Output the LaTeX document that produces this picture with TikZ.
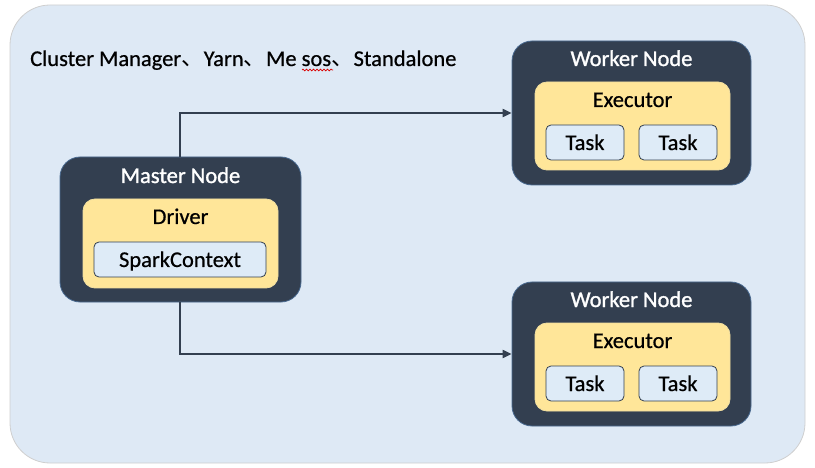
\documentclass[tikz,border=0pt]{standalone}
\usepackage{fontspec}
\setmainfont{Carlito}[FakeBold=0.6]
\newfontfamily\wfont{Carlito}[FakeBold=1.3]
\newfontfamily\cjk{Noto Sans CJK SC}
\usetikzlibrary{arrows.meta,decorations.pathmorphing}
\definecolor{bgblue}{HTML}{DEE9F5}
\definecolor{bgline}{HTML}{CFCFCF}
\definecolor{darkbox}{HTML}{333F50}
\definecolor{darkline}{HTML}{4A6A90}
\definecolor{yelbox}{HTML}{FFE699}
\definecolor{yelline}{HTML}{F2DFA0}
\definecolor{taskbox}{HTML}{DEEBF7}
\begin{document}
\begin{tikzpicture}[x=1pt,y=-1pt,
  every node/.style={font=\fontsize{22.5}{26}\selectfont, inner sep=0pt},
  nodebox/.style={draw=darkline, line width=0.8pt, fill=darkbox, rounded corners=20pt},
  procbox/.style={draw=yelline, line width=0.8pt, fill=yelbox, rounded corners=12pt},
  itembox/.style={draw=darkbox, line width=0.8pt, fill=taskbox, rounded corners=5pt},
  wtitle/.style={text=white, anchor=base, font=\wfont\fontsize{22.5}{26}\selectfont},
  btitle/.style={text=black, anchor=base},
  conn/.style={draw=darkbox, line width=2pt, -{Triangle[length=9pt,width=8pt]}}]
\useasboundingbox (0,0) rectangle (815,468);
\fill[bgblue, draw=bgline, line width=0.8pt, rounded corners=40pt] (10,5) rectangle (805,463);

\node[anchor=base west] (cm) at (30,66) {Cluster Manager{\cjk 、}Yarn{\cjk 、}Me sos{\cjk 、}Standalone};
\coordinate (sqa) at (302,70);
\coordinate (sqb) at (333,70);
\draw[red!85!black, line width=0.7pt, decorate, decoration={snake, amplitude=0.9pt, segment length=3.5pt}] (sqa) -- (sqb);

% Master node
\node[nodebox, minimum width=241pt, minimum height=145pt] (master) at (180.5,229.5) {};
\node[wtitle] (mastert) at (180.5,183) {Master Node};
\node[procbox, minimum width=195pt, minimum height=89pt] (driver) at (180.5,243.5) {};
\node[btitle] (drivert) at (180.5,224) {Driver};
\node[itembox, minimum width=172pt, minimum height=35pt] (sc) at (180,259.5) {};
\node[btitle] (sct) at (180,267) {SparkContext};

% Worker node top
\node[nodebox, minimum width=239pt, minimum height=144pt] (w1) at (631.5,113) {};
\node[wtitle] (w1t) at (631.5,66) {Worker Node};
\node[procbox, minimum width=195pt, minimum height=88pt] (e1) at (632.5,126) {};
\node[btitle] (e1t) at (632.5,107) {Executor};
\node[itembox, minimum width=78pt, minimum height=35pt] (t11) at (585,142.5) {};
\node[btitle] (t11t) at (585,150) {Task};
\node[itembox, minimum width=78pt, minimum height=35pt] (t12) at (678,142.5) {};
\node[btitle] (t12t) at (678,150) {Task};

% Worker node bottom
\node[nodebox, minimum width=239pt, minimum height=144pt] (w2) at (631.5,354) {};
\node[wtitle] (w2t) at (631.5,307) {Worker Node};
\node[procbox, minimum width=195pt, minimum height=88pt] (e2) at (632.5,367) {};
\node[btitle] (e2t) at (632.5,348) {Executor};
\node[itembox, minimum width=78pt, minimum height=35pt] (t21) at (585,383.5) {};
\node[btitle] (t21t) at (585,391) {Task};
\node[itembox, minimum width=78pt, minimum height=35pt] (t22) at (678,383.5) {};
\node[btitle] (t22t) at (678,391) {Task};

% connectors
\draw[conn] (master.north -| 180,0) |- (w1.west);
\draw[conn] (master.south -| 180,0) |- (w2.west);
\end{tikzpicture}
\end{document}
